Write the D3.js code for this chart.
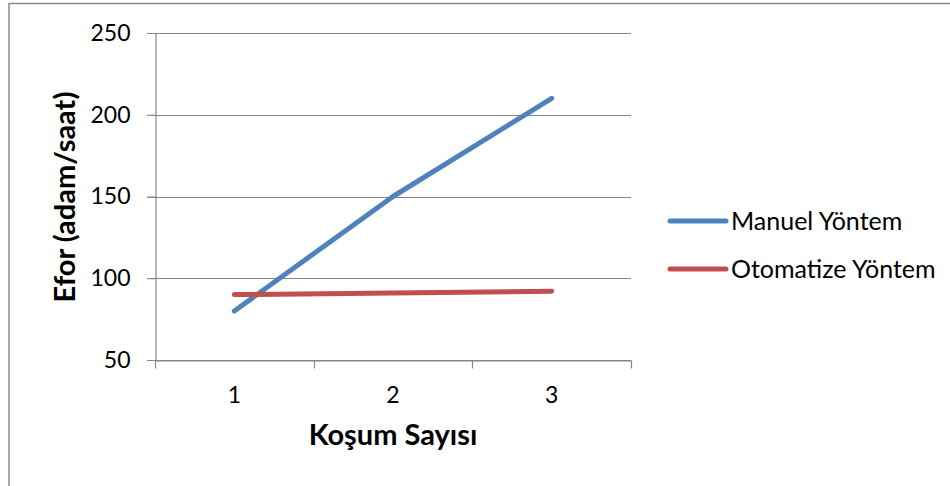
<!DOCTYPE html>
<html>
<head>
<meta charset="utf-8">
<script src="https://cdn.jsdelivr.net/npm/d3@7"></script>
<style>
html,body{margin:0;padding:0;background:#fff;}
svg{display:block;}
text{font-family:Lato, "Open Sans", sans-serif;fill:#000;}
</style>
</head>
<body>
<svg id="chart" width="950" height="486"></svg>
<script>
const categories = ["1", "2", "3"];
const manuelValues = [80, 150, 210];
const otomatizeValues = [90, 91, 92];
const yTickValues = [50, 100, 150, 200, 250];
const seriesNames = ["Manuel Yöntem", "Otomatize Yöntem"];
const seriesColors = ["#4F81BD", "#C0504D"];
const xTitle = "Koşum Sayısı";
const yTitle = "Efor (adam/saat)";

const series = [
  {name: seriesNames[0], color: seriesColors[0], values: manuelValues},
  {name: seriesNames[1], color: seriesColors[1], values: otomatizeValues}
];

const svg = d3.select("#chart");
const W = 950, H = 486;
const plot = {left: 155, right: 631, top: 33, bottom: 360};
const gridColor = "#868686";

// outer border
svg.append("rect")
  .attr("x", 9).attr("y", 3.5)
  .attr("width", W + 20).attr("height", H + 20)
  .attr("fill", "#fff").attr("stroke", "#8a8a8a").attr("stroke-width", 1.5);

const x = d3.scaleBand().domain(categories).range([plot.left, plot.right]);
const y = d3.scaleLinear().domain([50, 250]).range([plot.bottom, plot.top]);
const cx = c => x(c) + x.bandwidth() / 2;

// horizontal gridlines
svg.append("g").selectAll("line").data(yTickValues).join("line")
  .attr("x1", plot.left - 8).attr("x2", plot.right)
  .attr("y1", d => Math.round(y(d)) + 0.5).attr("y2", d => Math.round(y(d)) + 0.5)
  .attr("stroke", gridColor).attr("stroke-width", 1.2);

// y axis
const yAxis = svg.append("g")
  .attr("transform", `translate(${plot.left + 0.5},0)`)
  .call(d3.axisLeft(y).tickValues(yTickValues).tickSize(8).tickPadding(17));
yAxis.select(".domain").attr("stroke", gridColor).attr("stroke-width", 1.2);
yAxis.selectAll(".tick line").attr("stroke", gridColor);
yAxis.selectAll(".tick text").attr("font-size", 23).attr("font-family", "Lato").attr("fill", "#000");

// x axis (labels at category centres, tick marks at category boundaries)
const xAxis = svg.append("g")
  .attr("transform", `translate(0,${plot.bottom + 0.5})`)
  .call(d3.axisBottom(x).tickSize(0).tickPadding(26));
xAxis.select(".domain").attr("stroke", gridColor).attr("stroke-width", 1.2);
xAxis.selectAll(".tick text").attr("font-size", 23).attr("font-family", "Lato").attr("fill", "#000");
const bounds = categories.map(c => x(c)).concat([x(categories[categories.length - 1]) + x.bandwidth()]);
xAxis.append("g").selectAll("line").data(bounds).join("line")
  .attr("x1", d => Math.round(d) + 0.5).attr("x2", d => Math.round(d) + 0.5)
  .attr("y1", 0).attr("y2", 8)
  .attr("stroke", gridColor).attr("stroke-width", 1.2);

// series lines
const line = d3.line().x((d, i) => cx(categories[i])).y(d => y(d));
svg.append("g").selectAll("path").data(series).join("path")
  .attr("d", s => line(s.values))
  .attr("fill", "none")
  .attr("stroke", s => s.color)
  .attr("stroke-width", 5)
  .attr("stroke-linecap", "round")
  .attr("stroke-linejoin", "round");

// axis titles
svg.append("text")
  .attr("x", (plot.left + plot.right) / 2).attr("y", 445)
  .attr("text-anchor", "middle")
  .attr("font-size", 29).attr("font-weight", "bold")
  .text(xTitle);

svg.append("text")
  .attr("transform", `translate(75,197) rotate(-90)`)
  .attr("text-anchor", "middle")
  .attr("font-size", 29).attr("font-weight", "bold")
  .text(yTitle);

// legend
const legend = svg.append("g").selectAll("g").data(series).join("g")
  .attr("transform", (d, i) => `translate(670,${221 + i * 48})`);
legend.append("line")
  .attr("x1", 0).attr("x2", 56).attr("y1", 0).attr("y2", 0)
  .attr("stroke", d => d.color).attr("stroke-width", 5).attr("stroke-linecap", "round");
legend.append("text")
  .attr("x", 61).attr("y", 0).attr("dy", "0.35em")
  .attr("font-size", 25)
  .text(d => d.name);
</script>
</body>
</html>
